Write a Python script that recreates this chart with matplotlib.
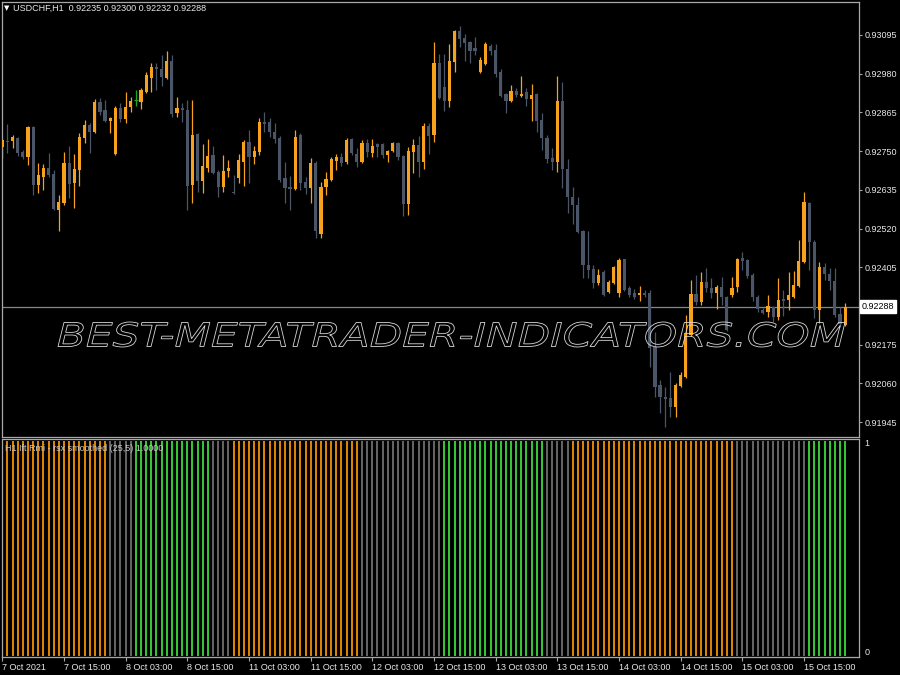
import matplotlib
matplotlib.use("Agg")
import matplotlib.pyplot as plt
import numpy as np
from matplotlib.textpath import TextPath
from matplotlib.patches import PathPatch
from matplotlib.font_manager import FontProperties
from matplotlib.transforms import Affine2D, IdentityTransform, blended_transform_factory

# ---------------- data ----------------
symbol = "USDCHF,H1"
indicator_name = "H1 Ift Rmi - rsx smoothed (25,5) 1.0000"
watermark = "BEST-METATRADER-INDICATORS.COM"

opens = [
0.92762,0.92780,0.92780,0.92789,0.92748,0.92733,0.92822,0.92650,0.92673,0.92700,
0.92682,0.92576,0.92597,0.92715,0.92656,0.92694,0.92789,0.92828,0.92807,0.92896,
0.92872,0.92840,0.92742,0.92878,0.92846,0.92881,0.92902,0.92896,0.92926,0.92967,
0.93000,0.92994,0.92967,0.93019,0.92863,0.92878,0.92872,0.92650,0.92801,0.92661,
0.92700,0.92739,0.92688,0.92645,0.92691,0.92630,0.92670,0.92718,0.92777,0.92733,
0.92748,0.92837,0.92837,0.92807,0.92789,0.92670,0.92645,0.92639,0.92798,0.92659,
0.92642,0.92715,0.92505,0.92645,0.92664,0.92721,0.92733,0.92718,0.92786,0.92742,
0.92718,0.92774,0.92745,0.92771,0.92771,0.92739,0.92751,0.92774,0.92736,0.92594,
0.92748,0.92768,0.92718,0.92825,0.92798,0.93013,0.92941,0.92899,0.93016,0.93107,
0.93086,0.93074,0.93056,0.92985,0.93010,0.93062,0.93051,0.92985,0.92920,0.92899,
0.92929,0.92914,0.92926,0.92905,0.92920,0.92843,0.92789,0.92730,0.92718,0.92899,
0.92697,0.92615,0.92591,0.92514,0.92413,0.92401,0.92359,0.92392,0.92332,0.92359,
0.92329,0.92431,0.92344,0.92329,0.92323,0.92329,0.92329,0.92168,0.92056,0.92020,
0.92018,0.91990,0.92053,0.92079,0.92204,0.92326,0.92302,0.92362,0.92344,0.92329,
0.92347,0.92317,0.92323,0.92347,0.92434,0.92428,0.92383,0.92317,0.92278,0.92272,
0.92287,0.92257,0.92311,0.92308,0.92317,0.92350,0.92422,0.92597,0.92481,0.92278,
0.92407,0.92386,0.92365,0.92266,0.92235]

highs = [
0.92789,0.92831,0.92798,0.92792,0.92754,0.92825,0.92825,0.92715,0.92712,0.92745,
0.92694,0.92621,0.92748,0.92765,0.92742,0.92804,0.92843,0.92834,0.92905,0.92908,
0.92902,0.92851,0.92884,0.92893,0.92926,0.92911,0.92932,0.92938,0.92985,0.93013,
0.93013,0.93036,0.93048,0.93036,0.92911,0.92893,0.92902,0.92902,0.92804,0.92771,
0.92786,0.92765,0.92694,0.92739,0.92724,0.92679,0.92742,0.92783,0.92813,0.92765,
0.92849,0.92866,0.92849,0.92834,0.92795,0.92718,0.92676,0.92813,0.92804,0.92673,
0.92730,0.92721,0.92659,0.92688,0.92733,0.92742,0.92745,0.92789,0.92789,0.92759,
0.92783,0.92786,0.92786,0.92774,0.92774,0.92754,0.92777,0.92777,0.92739,0.92762,
0.92786,0.92795,0.92834,0.92834,0.93074,0.93039,0.93039,0.93068,0.93110,0.93122,
0.93098,0.93077,0.93089,0.93030,0.93074,0.93068,0.93068,0.92994,0.92923,0.92947,
0.92938,0.92973,0.92938,0.92950,0.92923,0.92863,0.92798,0.92759,0.92973,0.92955,
0.92727,0.92645,0.92615,0.92517,0.92514,0.92413,0.92401,0.92398,0.92368,0.92410,
0.92434,0.92431,0.92350,0.92341,0.92350,0.92338,0.92338,0.92213,0.92070,0.92050,
0.92094,0.92062,0.92094,0.92263,0.92368,0.92383,0.92392,0.92404,0.92374,0.92353,
0.92377,0.92320,0.92377,0.92434,0.92451,0.92431,0.92389,0.92323,0.92284,0.92323,
0.92290,0.92374,0.92338,0.92392,0.92395,0.92487,0.92630,0.92600,0.92487,0.92422,
0.92419,0.92404,0.92404,0.92287,0.92300]

lows = [
0.92730,0.92745,0.92759,0.92736,0.92727,0.92709,0.92621,0.92627,0.92636,0.92673,
0.92576,0.92514,0.92591,0.92612,0.92582,0.92647,0.92774,0.92745,0.92804,0.92857,
0.92837,0.92804,0.92739,0.92837,0.92834,0.92866,0.92884,0.92875,0.92923,0.92926,
0.92932,0.92944,0.92964,0.92851,0.92851,0.92837,0.92576,0.92597,0.92630,0.92627,
0.92688,0.92682,0.92615,0.92630,0.92673,0.92624,0.92656,0.92647,0.92656,0.92712,
0.92739,0.92807,0.92792,0.92774,0.92659,0.92597,0.92576,0.92636,0.92636,0.92624,
0.92597,0.92493,0.92493,0.92621,0.92661,0.92694,0.92706,0.92712,0.92739,0.92703,
0.92715,0.92733,0.92733,0.92733,0.92730,0.92718,0.92748,0.92724,0.92556,0.92559,
0.92685,0.92673,0.92697,0.92742,0.92777,0.92905,0.92869,0.92881,0.92985,0.93059,
0.93019,0.93013,0.93036,0.92982,0.93007,0.93036,0.92970,0.92911,0.92863,0.92896,
0.92911,0.92911,0.92884,0.92840,0.92807,0.92754,0.92715,0.92694,0.92688,0.92642,
0.92567,0.92535,0.92508,0.92374,0.92374,0.92344,0.92353,0.92320,0.92329,0.92356,
0.92317,0.92335,0.92317,0.92311,0.92305,0.92317,0.92109,0.92020,0.91972,0.91931,
0.91961,0.91961,0.92050,0.92076,0.92201,0.92293,0.92293,0.92332,0.92314,0.92281,
0.92293,0.92216,0.92317,0.92332,0.92398,0.92374,0.92305,0.92272,0.92266,0.92257,
0.92243,0.92249,0.92260,0.92278,0.92314,0.92347,0.92419,0.92398,0.92254,0.92240,
0.92368,0.92338,0.92257,0.92228,0.92232]

closes = [
0.92783,0.92777,0.92792,0.92745,0.92733,0.92822,0.92650,0.92679,0.92700,0.92679,
0.92579,0.92600,0.92715,0.92653,0.92697,0.92792,0.92828,0.92807,0.92896,0.92866,
0.92840,0.92849,0.92878,0.92846,0.92881,0.92899,0.92902,0.92932,0.92976,0.93000,
0.92994,0.92970,0.93019,0.92860,0.92878,0.92872,0.92647,0.92798,0.92661,0.92706,
0.92736,0.92685,0.92645,0.92691,0.92700,0.92627,0.92724,0.92777,0.92733,0.92751,
0.92837,0.92831,0.92807,0.92786,0.92664,0.92642,0.92639,0.92792,0.92656,0.92642,
0.92715,0.92514,0.92645,0.92667,0.92727,0.92733,0.92715,0.92783,0.92745,0.92718,
0.92774,0.92748,0.92765,0.92762,0.92739,0.92751,0.92774,0.92733,0.92594,0.92751,
0.92768,0.92718,0.92825,0.92795,0.93013,0.92908,0.92899,0.93019,0.93107,0.93083,
0.93071,0.93048,0.93048,0.93021,0.93068,0.93048,0.92979,0.92914,0.92899,0.92929,
0.92917,0.92920,0.92905,0.92917,0.92840,0.92789,0.92727,0.92718,0.92899,0.92697,
0.92615,0.92591,0.92511,0.92413,0.92398,0.92359,0.92383,0.92323,0.92362,0.92407,
0.92428,0.92338,0.92323,0.92317,0.92329,0.92323,0.92165,0.92050,0.92020,0.92015,
0.91990,0.92056,0.92085,0.92210,0.92326,0.92302,0.92362,0.92344,0.92329,0.92347,
0.92317,0.92219,0.92344,0.92431,0.92425,0.92380,0.92317,0.92281,0.92269,0.92290,
0.92257,0.92308,0.92305,0.92323,0.92353,0.92425,0.92600,0.92481,0.92278,0.92407,
0.92386,0.92365,0.92263,0.92237,0.92288]

# indicator state per bar: U = orange, N = gray, D = green ; value shown = 1.0
ind_state = ("U" * 21 + "N" * 5 + "D" * 15 + "N" * 4 + "U" * 25 + "N" * 16 +
             "D" * 20 + "N" * 5 + "U" * 32 + "N" * 14 + "D" * 8)
ind_value = 1.0

price_ticks = [0.93095, 0.92980, 0.92865, 0.92750, 0.92635, 0.92520,
               0.92405, 0.92175, 0.92060, 0.91945]
time_tick_bars = [0, 12, 24, 36, 48, 60, 72, 84, 96, 108, 120, 132, 144, 156]
time_tick_labels = ["7 Oct 2021", "7 Oct 15:00", "8 Oct 03:00", "8 Oct 15:00",
                    "11 Oct 03:00", "11 Oct 15:00", "12 Oct 03:00", "12 Oct 15:00",
                    "13 Oct 03:00", "13 Oct 15:00", "14 Oct 03:00", "14 Oct 15:00",
                    "15 Oct 03:00", "15 Oct 15:00"]

# ---------------- style ----------------
BULL = "#F7A11C"
BEAR = "#4A5667"
DOJI = "#1FA81F"
FRAME = "#A8A8A8"
TXT = "#E8E8E8"
IND = {"U": "#F39200", "N": "#6E6E6E", "D": "#3ADB3A"}
FS = 6.5
plt.rcParams["font.family"] = ["Liberation Sans", "DejaVu Sans"]

W, H = 900, 675
fig = plt.figure(figsize=(W / 100, H / 100), dpi=100, facecolor="black")

def fx(px):
    return px / W

def fy(py):
    return 1 - py / H

ax = fig.add_axes([fx(2), fy(437), fx(859) - fx(2), fy(2) - fy(437)], facecolor="black")
ax2 = fig.add_axes([fx(2), fy(657), fx(859) - fx(2), fy(439.5) - fy(657)], facecolor="black")

o = np.array(opens); h = np.array(highs); l = np.array(lows); c = np.array(closes)
n = len(c)
x = np.arange(n)
h = np.maximum(h, np.maximum(o, c))
l = np.minimum(l, np.minimum(o, c))
cols = np.where(c > o, BULL, np.where(c < o, BEAR, DOJI))

ax.vlines(x, l, h, colors=cols, lw=0.9, zorder=2)
body_lo = np.minimum(o, c)
body_hi = np.maximum(o, c)
ax.bar(x, body_hi - body_lo, bottom=body_lo, width=0.62, color=cols, linewidth=0, zorder=3)
doji = c == o
ax.hlines(c[doji], x[doji] - 0.31, x[doji] + 0.31, colors=DOJI, lw=0.9, zorder=3)

# bid line
ax.axhline(c[-1], color="#7A8899", lw=0.9, zorder=1)

px_per_bar = 5.139
xmin = -0.3 / px_per_bar
xmax = xmin + 857 / px_per_bar
ax.set_xlim(xmin, xmax)
ax.set_ylim(0.91901, 0.93193)

for a in (ax, ax2):
    for s in a.spines.values():
        s.set_color(FRAME)
        s.set_linewidth(0.9)

ax.yaxis.tick_right()
ax.set_yticks(price_ticks)
ax.set_yticklabels([f"{v:.5f}" for v in price_ticks])
ax.tick_params(axis="y", colors=FRAME, labelcolor=TXT, labelsize=FS, length=2.5, width=0.8, pad=1.5)
ax.set_xticks([])

# current price label
btr = blended_transform_factory(ax.transAxes, ax.transData)
ax.text(1.003, c[-1], f"{c[-1]:.5f}", transform=btr, ha="left", va="center", fontsize=FS,
        color="black", bbox=dict(facecolor="white", edgecolor="white", boxstyle="square,pad=0.2"),
        zorder=6, clip_on=False)

# header
fig.text(fx(4), fy(8), "\u25BC", color="white", fontsize=5, va="center", ha="left",
         family="DejaVu Sans")
fig.text(fx(13), fy(8), f"{symbol}  {o[-1]:.5f} {h[-1]:.5f} {l[-1]:.5f} {c[-1]:.5f}",
         color=TXT, fontsize=FS, va="center", ha="left")

# ---------------- indicator ----------------
icol = [IND[s] for s in ind_state[:n]]
ax2.vlines(x, 0, ind_value, colors=icol, lw=1.3)
ax2.set_xlim(xmin, xmax)
ax2.set_ylim(-0.007, 1.0093)
ax2.set_yticks([])
ax2.set_xticks(time_tick_bars)
ax2.set_xticklabels(time_tick_labels)
ax2.tick_params(axis="x", colors=FRAME, labelcolor=TXT, labelsize=FS, length=3, width=0.8, pad=1)
for lab in ax2.get_xticklabels():
    lab.set_horizontalalignment("left")

ax2.text(1.006, 1.0, "1", transform=ax2.transAxes, ha="left", va="top", color=TXT, fontsize=FS)
ax2.text(1.006, 0.0, "0", transform=ax2.transAxes, ha="left", va="bottom", color=TXT, fontsize=FS)
ax2.text(0.003, 0.96, indicator_name, transform=ax2.transAxes, ha="left", va="center",
         color="#C8C8C8", fontsize=FS, zorder=5)

# ---------------- watermark ----------------
fp = FontProperties(family="DejaVu Sans", style="oblique")
tp = TextPath((0, 0), watermark, size=100, prop=fp)
ext = tp.get_extents()
x0, x1, ytop, ybot = 58, 845, 322, 347
tr = (Affine2D().translate(-ext.x0, -ext.y0)
      .scale((x1 - x0) / ext.width, (ybot - ytop) / ext.height)
      .translate(x0, H - ybot))
wm = PathPatch(tr.transform_path(tp), facecolor="none", edgecolor="#D8D8D8", lw=0.6,
               transform=IdentityTransform(), zorder=20)
fig.add_artist(wm)

fig.savefig("out.png", dpi=100, facecolor="black")
